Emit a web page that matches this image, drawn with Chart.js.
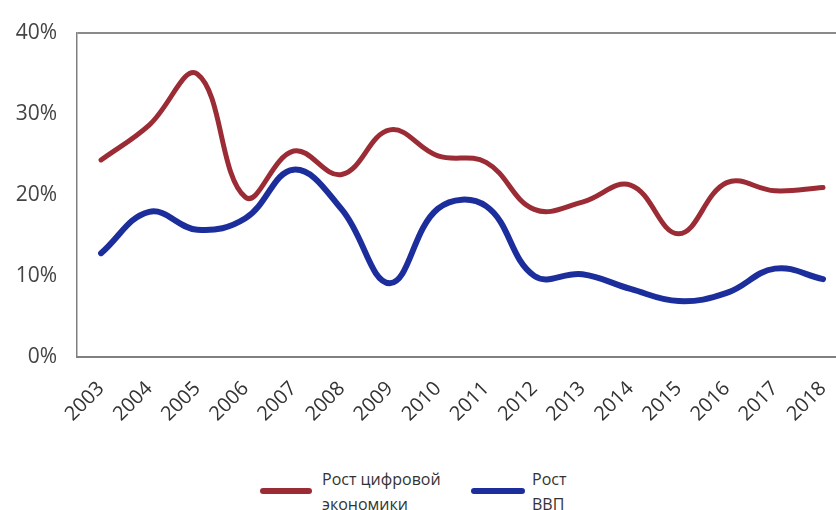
<!DOCTYPE html>
<html>
<head>
<meta charset="utf-8">
<script src="https://cdn.jsdelivr.net/npm/chart.js@4/dist/chart.umd.min.js"></script>
<style>
  html, body { margin: 0; padding: 0; background: #fff; overflow: hidden; }
  #wrap { position: relative; width: 836px; height: 510px; overflow: hidden; }
  #chart { position: absolute; left: 0; top: 0; }
  .legend-line { position: absolute; height: 6px; border-radius: 3px; }
  .legend-text { position: absolute; font-family: "Open Sans", sans-serif; font-size: 16px; line-height: 25px; color: #333; }
</style>
</head>
<body>
<div id="wrap">
  <canvas id="chart" width="860" height="450"></canvas>
  <div class="legend-line" style="left:260px; top:488px; width:52px; background:#9b2b35;"></div>
  <div class="legend-text" style="left:322px; top:467px;">Рост цифровой<br>экономики</div>
  <div class="legend-line" style="left:471px; top:488px; width:54px; background:#1c2e9c;"></div>
  <div class="legend-text" style="left:532px; top:467px;">Рост<br>ВВП</div>
</div>
<script>
  // years along the x axis
  var years = ['2003', '2004', '2005', '2006', '2007', '2008', '2009', '2010',
               '2011', '2012', '2013', '2014', '2015', '2016', '2017', '2018'];
  // growth of digital economy, %
  var digitalGrowth = [24.3, 28.6, 34.9, 19.7, 25.4, 22.5, 28.0, 24.8,
                       24.0, 18.2, 19.1, 21.2, 15.2, 21.5, 20.5, 20.9];
  // GDP growth, %
  var gdpGrowth = [12.8, 17.9, 15.7, 17.1, 23.1, 18.2, 9.1, 18.3,
                   18.6, 10.0, 10.2, 8.4, 6.9, 7.9, 10.9, 9.6];
  var yTicks = [0, 10, 20, 30, 40];

  var ctx = document.getElementById('chart').getContext('2d');
  new Chart(ctx, {
    type: 'line',
    data: {
      labels: years,
      datasets: [{
        label: 'Рост цифровой экономики',
        data: digitalGrowth,
        borderColor: '#9b2b35',
        borderWidth: 5,
        tension: 0.4,
        pointRadius: 0,
        borderCapStyle: 'round'
      }, {
        label: 'Рост ВВП',
        data: gdpGrowth,
        borderColor: '#1c2e9c',
        borderWidth: 6,
        tension: 0.4,
        pointRadius: 0,
        borderCapStyle: 'round'
      }]
    },
    options: {
      responsive: false,
      animation: false,
      layout: { padding: { top: 28, right: 0, bottom: 0, left: 0 } },
      plugins: { legend: { display: false }, tooltip: { enabled: false } },
      scales: {
        x: {
          offset: true,
          grid: { display: false, drawTicks: false },
          border: { display: true, color: '#808080', width: 2 },
          ticks: {
            font: { family: 'Open Sans', size: 20 },
            color: '#333',
            minRotation: 45,
            maxRotation: 45,
            padding: 20
          },
          afterFit: function(scale) { scale.height = 93; }
        },
        y: {
          min: 0,
          max: 40,
          afterBuildTicks: function(scale) {
            scale.ticks = yTicks.map(function(v) { return { value: v }; });
          },
          grid: {
            drawTicks: false,
            lineWidth: 2,
            color: function(c) { return c.tick && c.tick.value === 40 ? '#8a8a8a' : 'rgba(0,0,0,0)'; }
          },
          border: { display: true, color: '#808080', width: 1.5 },
          ticks: {
            font: { family: 'Open Sans', size: 21 },
            color: '#444',
            padding: 20,
            callback: function(v) { return v + '%'; }
          },
          afterFit: function(scale) { scale.width = 77; }
        }
      }
    }
  });
</script>
</body>
</html>
